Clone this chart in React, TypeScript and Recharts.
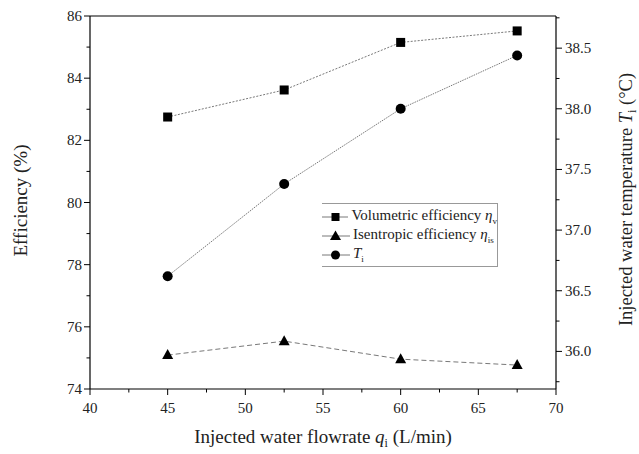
import { ComposedChart, Line, XAxis, YAxis, ReferenceLine } from 'recharts';

const flowrate = [45, 52.5, 60, 67.5];
const volumetricEff = [82.75, 83.62, 85.15, 85.52];
const isentropicEff = [75.09, 75.54, 74.96, 74.77];
const waterTemp = [36.62, 37.38, 38.0, 38.44];

const xTicks = [40, 42.5, 45, 47.5, 50, 52.5, 55, 57.5, 60, 62.5, 65, 67.5, 70];
const leftTicks = [74, 75, 76, 77, 78, 79, 80, 81, 82, 83, 84, 85, 86];
const rightTicks = [35.75, 36, 36.25, 36.5, 36.75, 37, 37.25, 37.5, 37.75, 38, 38.25, 38.5, 38.75];

const FONT = '"Liberation Serif", "Times New Roman", serif';
const TICK_SIZE = 5;
const TICK_MARGIN = 3;

const data = flowrate.map((q, i) => ({
  q,
  vol: volumetricEff[i],
  isen: isentropicEff[i],
  temp: waterTemp[i],
}));

const isMajor = (v: number, step: number) => Math.abs(v / step - Math.round(v / step)) < 1e-6;

const LeftTick = (props: any) => {
  const { x, y, payload } = props;
  const ax = x + TICK_SIZE + TICK_MARGIN;
  const major = isMajor(payload.value, 2);
  return (
    <g>
      <line x1={ax - (major ? 6 : 3.5)} x2={ax} y1={y} y2={y} stroke="#000" strokeWidth={1} />
      {major && (
        <text x={ax - 8} y={y} dy={5} textAnchor="end" fontSize={15} fontFamily={FONT} fill="#222">
          {payload.value}
        </text>
      )}
    </g>
  );
};

const RightTick = (props: any) => {
  const { x, y, payload } = props;
  const ax = x - TICK_SIZE - TICK_MARGIN;
  const major = isMajor(payload.value, 0.5);
  return (
    <g>
      <line x1={ax} x2={ax + (major ? 6 : 3.5)} y1={y} y2={y} stroke="#000" strokeWidth={1} />
      {major && (
        <text x={ax + 9} y={y} dy={5} textAnchor="start" fontSize={15} fontFamily={FONT} fill="#222">
          {payload.value.toFixed(1)}
        </text>
      )}
    </g>
  );
};

const BottomTick = (props: any) => {
  const { x, y, payload } = props;
  const ay = y - TICK_SIZE - TICK_MARGIN;
  const major = isMajor(payload.value, 5);
  return (
    <g>
      <line x1={x} x2={x} y1={ay} y2={ay + (major ? 6 : 3.5)} stroke="#000" strokeWidth={1} />
      {major && (
        <text x={x} y={ay + 24} textAnchor="middle" fontSize={15} fontFamily={FONT} fill="#222">
          {payload.value}
        </text>
      )}
    </g>
  );
};

const SquareDot = (p: any) => (
  <rect key={`s${p.index}`} x={p.cx - 4.5} y={p.cy - 4.5} width={9} height={9} fill="#000" />
);
const TriangleDot = (p: any) => (
  <path key={`t${p.index}`} d={`M${p.cx},${p.cy - 6} L${p.cx + 5.5},${p.cy + 4} L${p.cx - 5.5},${p.cy + 4} Z`} fill="#000" />
);
const CircleDot = (p: any) => <circle key={`c${p.index}`} cx={p.cx} cy={p.cy} r={5} fill="#000" />;

const legendItems = [
  { key: 'vol', marker: 'square', label: 'Volumetric efficiency ', sym: 'η', sub: 'v' },
  { key: 'isen', marker: 'triangle', label: 'Isentropic efficiency ', sym: 'η', sub: 'is' },
  { key: 'temp', marker: 'circle', label: '', sym: 'T', sub: 'i' },
];

const LegendMarker = ({ kind }: { kind: string }) => (
  <svg width={28} height={14} style={{ display: 'block' }}>
    <line x1={0} x2={28} y1={7} y2={7} stroke="#555" strokeWidth={0.8} />
    {kind === 'square' && <rect x={9.5} y={3} width={8} height={8} fill="#000" />}
    {kind === 'triangle' && <path d="M13.5,1.5 L19,11 L8,11 Z" fill="#000" />}
    {kind === 'circle' && <circle cx={13.5} cy={7} r={4.5} fill="#000" />}
  </svg>
);

export default function App() {
  return (
    <div style={{ position: 'absolute', left: 0, top: 0, width: 639, height: 454, background: '#fff', fontFamily: FONT }}>
      <ComposedChart width={639} height={454} data={data} margin={{ top: 16, right: 0, bottom: 0, left: 0 }}>
        <XAxis
          dataKey="q"
          type="number"
          domain={[40, 70]}
          ticks={xTicks}
          interval={0}
          height={65}
          tickSize={TICK_SIZE}
          tickMargin={TICK_MARGIN}
          tickLine={false}
          tick={BottomTick}
          axisLine={{ stroke: '#000', strokeWidth: 1.2 }}
          label={{
            content: (p: any) => {
              const vb = p.viewBox;
              return (
                <text x={vb.x + vb.width / 2} y={vb.y + 54} textAnchor="middle" fontSize={19} fontFamily={FONT} fill="#222">
                  Injected water flowrate <tspan fontStyle="italic">q</tspan>
                  <tspan fontSize={12} dy={4}>i</tspan>
                  <tspan dy={-4}> (L/min)</tspan>
                </text>
              );
            },
          }}
        />
        <YAxis
          yAxisId="left"
          orientation="left"
          type="number"
          domain={[74, 86]}
          ticks={leftTicks}
          interval={0}
          width={90}
          tickSize={TICK_SIZE}
          tickMargin={TICK_MARGIN}
          tickLine={false}
          tick={LeftTick}
          axisLine={{ stroke: '#000', strokeWidth: 1.2 }}
          label={{
            content: (p: any) => {
              const vb = p.viewBox;
              const cx = 27;
              const cy = vb.y + vb.height / 2 - 2;
              return (
                <text x={cx} y={cy} transform={`rotate(-90 ${cx} ${cy})`} textAnchor="middle" fontSize={19} fontFamily={FONT} fill="#222">
                  Efficiency (%)
                </text>
              );
            },
          }}
        />
        <YAxis
          yAxisId="right"
          orientation="right"
          type="number"
          domain={[35.69, 38.765]}
          ticks={rightTicks}
          interval={0}
          width={83}
          tickSize={TICK_SIZE}
          tickMargin={TICK_MARGIN}
          tickLine={false}
          tick={RightTick}
          axisLine={{ stroke: '#000', strokeWidth: 1.2 }}
          label={{
            content: (p: any) => {
              const vb = p.viewBox;
              const cx = 632;
              const cy = vb.y + vb.height / 2 - 3;
              return (
                <text x={cx} y={cy} transform={`rotate(-90 ${cx} ${cy})`} textAnchor="middle" fontSize={18.5} fontFamily={FONT} fill="#222">
                  Injected water temperature <tspan fontStyle="italic">T</tspan>
                  <tspan fontSize={12} dy={4}>i</tspan>
                  <tspan dy={-4}> (°C)</tspan>
                </text>
              );
            },
          }}
        />
        <ReferenceLine yAxisId="left" y={86} stroke="#000" strokeWidth={1.2} />
        <Line
          yAxisId="left"
          dataKey="vol"
          stroke="#555"
          strokeWidth={0.8}
          strokeDasharray="2 1.5"
          dot={SquareDot}
          activeDot={false}
          isAnimationActive={false}
        />
        <Line
          yAxisId="left"
          dataKey="isen"
          stroke="#555"
          strokeWidth={0.8}
          strokeDasharray="5 3"
          dot={TriangleDot}
          activeDot={false}
          isAnimationActive={false}
        />
        <Line
          yAxisId="right"
          dataKey="temp"
          stroke="#555"
          strokeWidth={0.8}
          strokeDasharray="1.5 1"
          dot={CircleDot}
          activeDot={false}
          isAnimationActive={false}
        />
      </ComposedChart>
      <div
        style={{
          position: 'absolute',
          left: 322,
          top: 203,
          width: 176,
          height: 64,
          border: '1px solid #999',
          borderLeft: 'none',
          boxSizing: 'border-box',
          fontFamily: FONT,
          fontSize: 15,
          color: '#222',
          paddingTop: 3,
        }}
      >
        {legendItems.map((it) => (
          <div key={it.key} style={{ display: 'flex', alignItems: 'center', height: 19 }}>
            <LegendMarker kind={it.marker} />
            <span style={{ marginLeft: 3, whiteSpace: 'nowrap' }}>
              {it.label}
              <i>{it.sym}</i>
              <sub style={{ fontSize: 9 }}>{it.sub}</sub>
            </span>
          </div>
        ))}
      </div>
    </div>
  );
}
